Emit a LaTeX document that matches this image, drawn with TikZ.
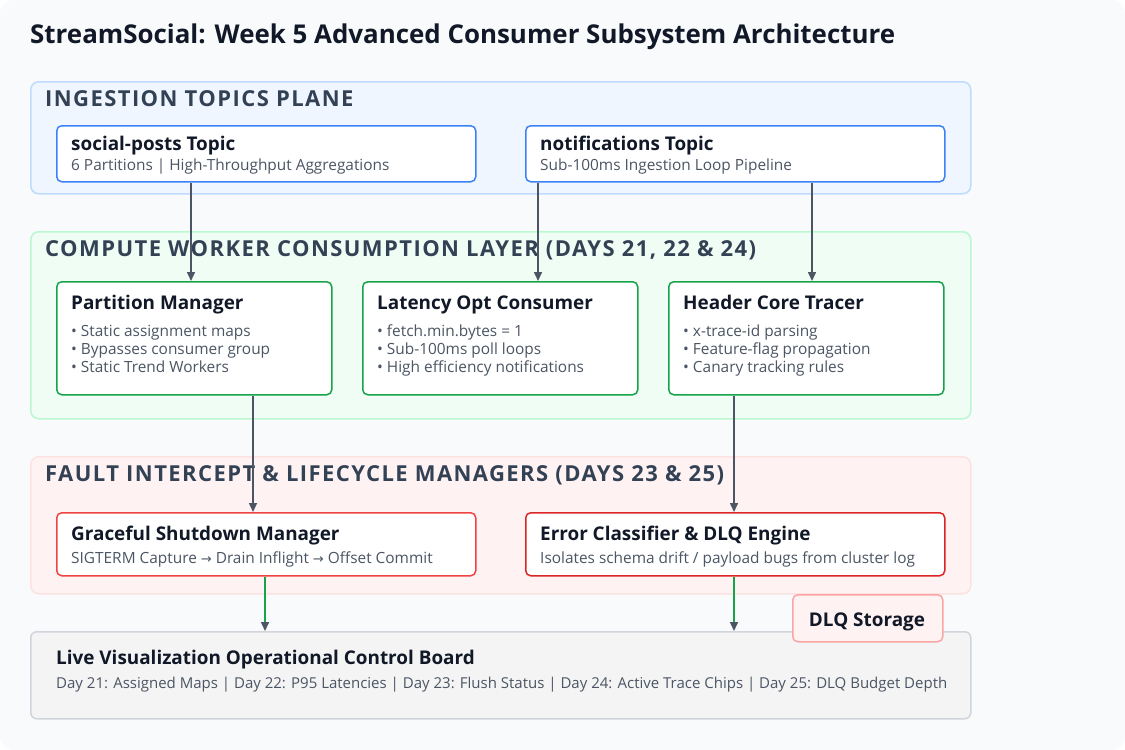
\documentclass[tikz,border=0pt]{standalone}
\usepackage{fontspec}
\setmainfont{Open Sans}
\newfontfamily\symfont{DejaVu Sans}
\usetikzlibrary{arrows.meta,calc}
\definecolor{bg}{HTML}{F8FAFC}
\definecolor{ink}{HTML}{111827}
\definecolor{slate}{HTML}{334155}
\definecolor{subc}{HTML}{4B5563}
\definecolor{arrowgray}{HTML}{4B5563}
\definecolor{bfill}{HTML}{EFF6FF}
\definecolor{bline}{HTML}{BFDBFE}
\definecolor{bcard}{HTML}{3B82F6}
\definecolor{gfill}{HTML}{F0FDF4}
\definecolor{gline}{HTML}{BBF7D0}
\definecolor{gcard}{HTML}{16A34A}
\definecolor{rfill}{HTML}{FEF2F2}
\definecolor{rline}{HTML}{FEE2E2}
\definecolor{rcard}{HTML}{EF4444}
\definecolor{rcardd}{HTML}{DC2626}
\definecolor{dlqline}{HTML}{FCA5A5}
\definecolor{kfill}{HTML}{F4F4F5}
\definecolor{kline}{HTML}{D1D5DB}
\newcommand{\rarr}{{\symfont\fontsize{13}{18}\selectfont →}}
\tikzset{
 panel/.style={draw, line width=1.5pt, rounded corners=8pt, anchor=north west, inner sep=0pt},
 card/.style={draw, fill=white, line width=1.5pt, rounded corners=5pt, anchor=north west, inner sep=0pt},
 plabel/.style={anchor=base west, text=slate, inner sep=0pt, font=\fontsize{22}{26}\selectfont\bfseries\addfontfeature{LetterSpace=6.5}},
 ctitle/.style={anchor=base west, text=ink, inner sep=0pt, font=\fontsize{18.9}{22}\selectfont\bfseries},
 csub/.style={anchor=base west, text=subc, inner sep=0pt, font=\fontsize{15.4}{18}\selectfont},
 arr/.style={draw=arrowgray, line width=1.5pt, -{Triangle[length=9pt,width=8pt]}},
 garr/.style={draw=gcard, line width=1.5pt, -{Triangle[length=9pt,width=8pt,color=arrowgray]}},
}
\begin{document}
\begin{tikzpicture}[x=1pt,y=-1pt]
\useasboundingbox (0,0) rectangle (1125,750);
\fill[white] (0,0) rectangle (1125,750);
\fill[bg, rounded corners=14pt] (0,0) rectangle (1125,750);

\node[anchor=base west, inner sep=0pt, text=ink, font=\fontsize{25.9}{30}\selectfont\bfseries] (title) at (30,43) {StreamSocial: Week 5 Advanced Consumer Subsystem Architecture};

% Panel 1
\node[panel, fill=bfill, draw=bline, minimum width=940, minimum height=112] (p1) at (30,81) {};
\node[plabel] (p1l) at (45,106) {INGESTION TOPICS PLANE};
\node[card, draw=bcard, minimum width=419, minimum height=56] (sp) at (56,125) {};
\node[ctitle] (spt) at (71,150) {social-posts Topic};
\node[csub] (sps) at (71,170) {6 Partitions | High-Throughput Aggregations};
\node[card, draw=bcard, minimum width=419, minimum height=56] (nt) at (525,125) {};
\node[ctitle] (ntt) at (540,150) {notifications Topic};
\node[csub] (nts) at (540,170) {Sub-100ms Ingestion Loop Pipeline};

% Panel 2
\node[panel, fill=gfill, draw=gline, minimum width=940, minimum height=187] (p2) at (30,231) {};
\node[plabel] (p2l) at (45,256) {COMPUTE WORKER CONSUMPTION LAYER (DAYS 21, 22 \& 24)};
\node[card, draw=gcard, minimum width=275, minimum height=113] (pm) at (56,281) {};
\node[ctitle] at (71,309) {Partition Manager};
\node[csub] at (71,336) {• Static assignment maps};
\node[csub] at (71,354) {• Bypasses consumer group};
\node[csub] at (71,372) {• Static Trend Workers};
\node[card, draw=gcard, minimum width=275, minimum height=113] (lc) at (362,281) {};
\node[ctitle] at (377,309) {Latency Opt Consumer};
\node[csub] at (377,336) {• fetch.min.bytes = 1};
\node[csub] at (377,354) {• Sub-100ms poll loops};
\node[csub] at (377,372) {• High efficiency notifications};
\node[card, draw=gcard, minimum width=275, minimum height=113] (hc) at (668,281) {};
\node[ctitle] at (683,309) {Header Core Tracer};
\node[csub] at (683,336) {• x-trace-id parsing};
\node[csub] at (683,354) {• Feature-flag propagation};
\node[csub] at (683,372) {• Canary tracking rules};

% Panel 3
\node[panel, fill=rfill, draw=rline, minimum width=940, minimum height=137] (p3) at (30,456) {};
\node[plabel] (p3l) at (45,481) {FAULT INTERCEPT \& LIFECYCLE MANAGERS (DAYS 23 \& 25)};
\node[card, draw=rcard, minimum width=419, minimum height=63] (gs) at (56,512) {};
\node[ctitle] at (71,540) {Graceful Shutdown Manager};
\node[csub] at (71,563) {SIGTERM Capture \rarr\ Drain Inflight \rarr\ Offset Commit};
\node[card, draw=rcardd, minimum width=419, minimum height=63] (ec) at (525,512) {};
\node[ctitle] at (540,540) {Error Classifier \& DLQ Engine};
\node[csub] at (540,563) {Isolates schema drift / payload bugs from cluster log};

% Bottom board
\node[panel, fill=kfill, draw=kline, rounded corners=6pt, minimum width=940, minimum height=87] (bd) at (30,631) {};
\node[ctitle] at (56,664) {Live Visualization Operational Control Board};
\node[csub, font=\fontsize{15}{18}\selectfont] at (56,688) {Day 21: Assigned Maps | Day 22: P95 Latencies | Day 23: Flush Status | Day 24: Active Trace Chips | Day 25: DLQ Budget Depth};

% DLQ storage
\node[card, fill=rfill, draw=dlqline, minimum width=150, minimum height=47] (dlq) at (792,594) {};
\node[ctitle, anchor=base] at (867,626) {DLQ Storage};

% Connectors
\draw[arr] ([xshift=135pt]sp.south west) -- ([xshift=135pt]sp.south west |- pm.north);
\draw[arr] ([xshift=13pt]nt.south west) -- ([xshift=13pt]nt.south west |- lc.north);
\draw[arr] ([xshift=287pt]nt.south west) -- ([xshift=287pt]nt.south west |- hc.north);
\draw[arr] ([xshift=197pt]pm.south west) -- ([xshift=197pt]pm.south west |- gs.north);
\draw[arr] ([xshift=66pt]hc.south west) -- ([xshift=66pt]hc.south west |- ec.north);
\draw[garr] ([xshift=209pt]gs.south west) -- ([xshift=209pt]gs.south west |- bd.north);
\draw[garr] ([xshift=209pt]ec.south west) -- ([xshift=209pt]ec.south west |- bd.north);
\end{tikzpicture}
\end{document}
